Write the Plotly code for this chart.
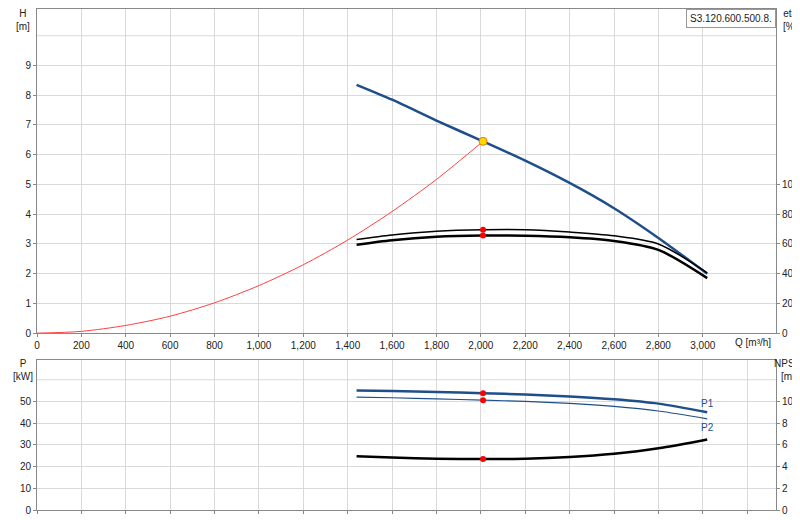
import plotly.graph_objects as go

# pump curve H(Q)
q_h = [1440, 1600, 1800, 2000, 2200, 2400, 2600, 2800, 3020]
h = [8.35, 7.85, 7.15, 6.48, 5.8, 5.05, 4.2, 3.2, 2.0]
# system curve
q_sys = [0, 200, 400, 600, 800, 1000, 1200, 1400, 1600, 1800, 2010]
h_sys = [0, 0.06, 0.26, 0.57, 1.02, 1.6, 2.3, 3.13, 4.09, 5.17, 6.45]
# efficiency
q_eta = [1440, 1600, 1800, 2010, 2200, 2400, 2600, 2800, 3020]
eta1 = [63, 66, 68.5, 69.5, 69.5, 68, 65.5, 60, 40.5]
eta2 = [59.5, 62.5, 64.8, 65.6, 65.5, 64.5, 62, 56, 37]
# power
q_p = [1440, 1600, 1800, 2010, 2200, 2400, 2600, 2800, 3020]
p1 = [55, 54.8, 54.4, 53.8, 53.2, 52.3, 51, 49, 45]
p2 = [52, 51.7, 51.2, 50.6, 50, 49.1, 47.7, 45.6, 42]
# NPSH
npsh = [4.96, 4.83, 4.73, 4.7, 4.72, 4.88, 5.18, 5.68, 6.5]
duty_q = 2010

grid = "#d9d9d9"
font = dict(family="Liberation Sans, Arial", size=10, color="#222")
sp = dict(shape="spline", smoothing=0.8)
fig = go.Figure()
fig.add_trace(go.Scatter(x=q_sys, y=h_sys, mode="lines", line=dict(sp, color="#ff4040", width=1)))
fig.add_trace(go.Scatter(x=q_h, y=h, mode="lines", line=dict(sp, color="#1f4f8a", width=2.5)))
fig.add_trace(go.Scatter(x=q_eta, y=eta1, yaxis="y2", mode="lines", line=dict(sp, color="black", width=1.5)))
fig.add_trace(go.Scatter(x=q_eta, y=eta2, yaxis="y2", mode="lines", line=dict(sp, color="black", width=2.5)))
fig.add_trace(go.Scatter(x=[duty_q, duty_q], y=[eta1[3], eta2[3]], yaxis="y2", mode="markers",
                         marker=dict(color="red", size=6)))
fig.add_trace(go.Scatter(x=[duty_q], y=[6.45], mode="markers",
                         marker=dict(color="#ffd700", size=8, line=dict(color="#e08000", width=1))))
fig.add_trace(go.Scatter(x=q_p, y=p1, xaxis="x2", yaxis="y3", mode="lines", line=dict(sp, color="#1f4f8a", width=2.5)))
fig.add_trace(go.Scatter(x=q_p, y=p2, xaxis="x2", yaxis="y3", mode="lines", line=dict(sp, color="#1f4f8a", width=1.2)))
fig.add_trace(go.Scatter(x=q_p, y=npsh, xaxis="x2", yaxis="y4", mode="lines", line=dict(sp, color="black", width=2.5)))
fig.add_trace(go.Scatter(x=[duty_q, duty_q], y=[p1[3], p2[3]], xaxis="x2", yaxis="y3", mode="markers",
                         marker=dict(color="red", size=6)))
fig.add_trace(go.Scatter(x=[duty_q], y=[npsh[3]], xaxis="x2", yaxis="y4", mode="markers",
                         marker=dict(color="red", size=6)))

xcommon = dict(range=[0, 3330], dtick=200, gridcolor=grid, showline=True, linecolor="#888", automargin=False,
               mirror=True, zeroline=False, tickfont=font, ticks="outside", ticklen=3, tickcolor="#888")
ycommon = dict(gridcolor=grid, showline=True, linecolor="#888", zeroline=False, tickfont=font, automargin=False,
               ticks="outside", ticklen=3, tickcolor="#888")
fig.update_layout(
    width=800, height=520, showlegend=False, plot_bgcolor="white", paper_bgcolor="white",
    margin=dict(l=29, r=32, t=1, b=18, autoexpand=False), font=font,
    xaxis=dict(xcommon, domain=[0, 1], anchor="y", tickformat=",d",
               tickvals=list(range(0, 3001, 200)), showgrid=True),
    xaxis2=dict(xcommon, domain=[0, 1], anchor="y3", showticklabels=False),
    yaxis=dict(ycommon, domain=[0.353, 1], range=[0, 10.9], tickvals=list(range(0, 10)), mirror=False),
    yaxis2=dict(ycommon, overlaying="y", side="right", range=[0, 218], tickvals=list(range(0, 101, 20)),
                showgrid=False),
    yaxis3=dict(ycommon, domain=[0, 0.299], range=[0, 69], tickvals=list(range(0, 51, 10)), mirror=False),
    yaxis4=dict(ycommon, overlaying="y3", side="right", range=[0, 13.8], tickvals=list(range(0, 11, 2)),
                showgrid=False),
)
fig.add_shape(type="line", xref="x2", yref="y3", x0=0, x1=3330, y0=60, y1=60, line=dict(color=grid, width=1), layer="below")
fig.add_shape(type="line", xref="x", yref="y", x0=0, x1=3330, y0=10, y1=10, line=dict(color=grid, width=1), layer="below")
# pixel positions of the axis titles, converted to paper coordinates
ann = [
    (15, 12, "H<br>[m]"), (782, 12, "eta<br>[%]"), (15, 362, "P<br>[kW]"), (780, 362, "NPSH<br>[m]"),
    (745, 334, "Q [m³/h]"),
]
for x, y, t in ann:
    fig.add_annotation(x=(x - 29) / 739, y=(502 - y) / 501, xref="paper", yref="paper", text=t,
                       showarrow=False, font=font, xanchor="center", yanchor="middle")
fig.add_annotation(x=1, y=1, xref="paper", yref="paper", text="S3.120.600.500.8.", showarrow=False,
                   xanchor="right", yanchor="top", font=font, bgcolor="white", bordercolor="#999",
                   borderwidth=1, borderpad=3)
fig.add_annotation(x=3020, y=p1[-1] + 4, xref="x2", yref="y3", text="P1", showarrow=False,
                   font=dict(font, color="#1f4f8a"))
fig.add_annotation(x=3020, y=p2[-1] - 4, xref="x2", yref="y3", text="P2", showarrow=False,
                   font=dict(font, color="#1f4f8a"))
fig.write_html("out.html")
